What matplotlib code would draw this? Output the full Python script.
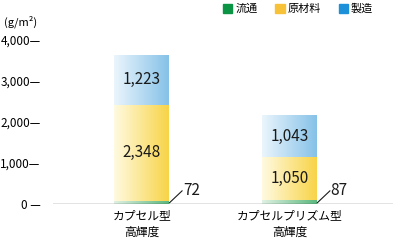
import matplotlib
matplotlib.use("Agg")
import matplotlib.pyplot as plt
from matplotlib.colors import LinearSegmentedColormap
from matplotlib.patches import Patch
import numpy as np

plt.rcParams['font.family'] = ['Noto Sans CJK JP', 'DejaVu Sans']

categories = ['カプセル型\n高輝度', 'カプセルプリズム型\n高輝度']
series = ['流通', '原材料', '製造']
ryutsu = [72, 87]
genzairyo = [2348, 1050]
seizo = [1223, 1043]
yticks = [0, 1000, 2000, 3000, 4000]
ytick_labels = ['0 —', '1,000—', '2,000—', '3,000—', '4,000—']

legend_colors = ['#0a9444', '#f7c238', '#1c90d8']
grad = [('#dff1e3', '#5cb87e'), ('#fffae0', '#f8d448'), ('#eaf5fc', '#86c2e8')]

fig = plt.figure(figsize=(4, 2.4), dpi=100)
ax = fig.add_axes([53/400, 36/240, 340/400, 164/240])

x = np.arange(len(categories))
w = 0.372
bottoms = np.zeros(len(categories))
grad_img = np.linspace(0, 1, 64).reshape(1, -1)
for vals, (c0, c1) in zip([ryutsu, genzairyo, seizo], grad):
    bars = ax.bar(x, vals, w, bottom=bottoms, color='none', edgecolor='none')
    cmap = LinearSegmentedColormap.from_list('g', [c0, c1])
    for b in bars:
        x0, y0 = b.get_x(), b.get_y()
        im = ax.imshow(grad_img, cmap=cmap, aspect='auto',
                       extent=[x0, x0 + b.get_width(), y0, y0 + b.get_height()],
                       zorder=2)
        im.set_clip_path(b)
    bottoms += np.array(vals)

# value labels
for i in range(len(categories)):
    ax.text(x[i], ryutsu[i] + genzairyo[i] / 2, f'{genzairyo[i]:,}',
            ha='center', va='center', fontsize=11, color='#1a1a1a', zorder=3)
    ax.text(x[i], ryutsu[i] + genzairyo[i] + seizo[i] / 2, f'{seizo[i]:,}',
            ha='center', va='center', fontsize=11, color='#1a1a1a', zorder=3)
    ax.plot([x[i] + w / 2, x[i] + w / 2 + 0.085], [30, 320], color='#1a1a1a', lw=0.8)
    ax.text(x[i] + w / 2 + 0.09, 330, str(ryutsu[i]), ha='left', va='center',
            fontsize=11, color='#1a1a1a')

ax.set_xlim(-0.602, 1.698)
ax.set_ylim(0, 4000)
ax.axhline(0, color='#222222', lw=0.9, zorder=4)
for s in ax.spines.values():
    s.set_visible(False)
ax.set_yticks(yticks)
ax.set_yticklabels(ytick_labels, fontsize=8.5)
ax.tick_params(axis='y', length=0, pad=9)
ax.set_xticks(x)
ax.set_xticklabels(categories, fontsize=8.5, linespacing=1.3)
ax.tick_params(axis='x', length=0, pad=4)

fig.text(4/400, 1 - 22/240, '(g/m²)', fontsize=8, va='center', ha='left')

handles = [Patch(color=c) for c in legend_colors]
fig.legend(handles, series, loc='center', bbox_to_anchor=(298/400, 1 - 9/240),
           ncol=3, frameon=False, fontsize=8, handlelength=0.85, handleheight=0.85,
           handletextpad=0.25, columnspacing=1.6)

fig.savefig('out.png', dpi=100)
